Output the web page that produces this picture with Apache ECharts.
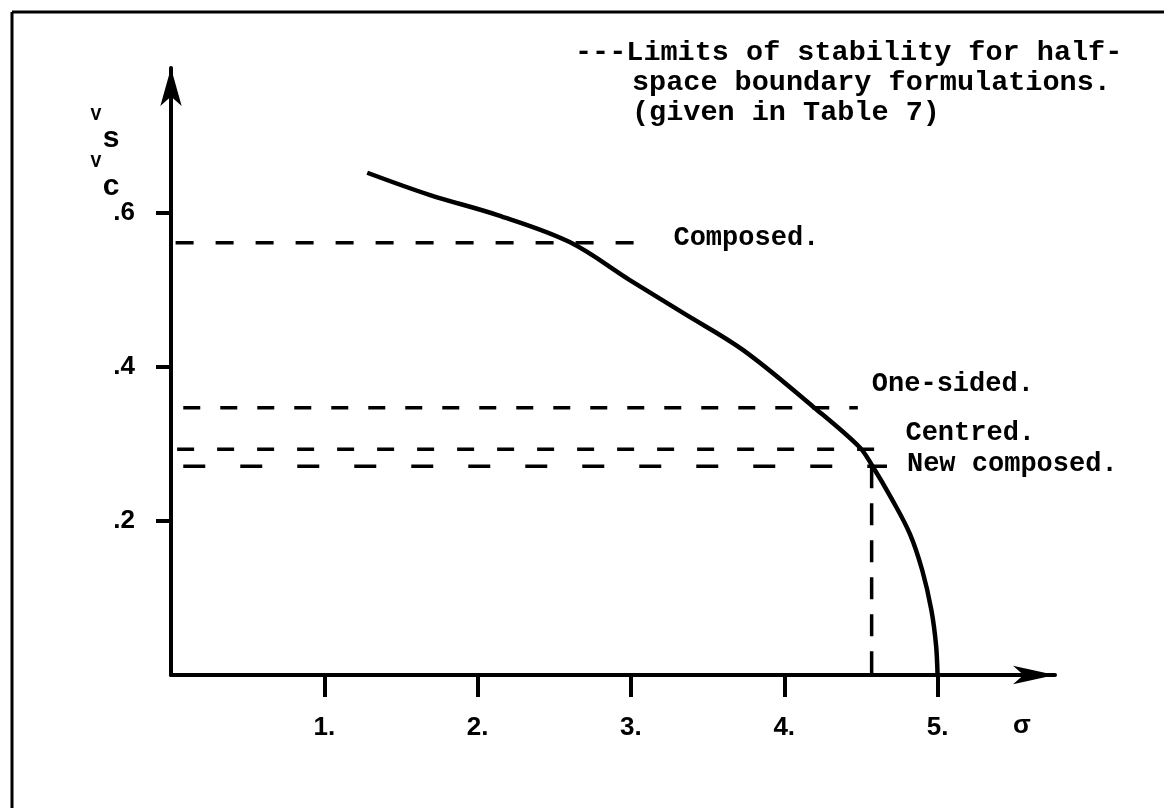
<!DOCTYPE html>
<html>
<head>
<meta charset="utf-8">
<script src="https://cdn.jsdelivr.net/npm/echarts@6/dist/echarts.min.js"></script>
<style>html,body{margin:0;padding:0;background:#fff}#c{width:1164px;height:808px}</style>
</head>
<body>
<div id="c"></div>
<script>
// ---- data ----
const xTicks = [1, 2, 3, 4, 5];
const yTicks = [0.2, 0.4, 0.6];
const curveX = [1.28, 1.69, 2.13, 2.60, 2.99, 3.34, 3.73, 4.19, 4.49, 4.57, 4.70, 4.82, 4.90, 4.96, 4.99, 5.0];
const curveY = [0.652, 0.623, 0.597, 0.562, 0.513, 0.470, 0.422, 0.348, 0.296, 0.273, 0.229, 0.183, 0.136, 0.084, 0.039, 0.0];
const limitNames = ['Composed.', 'One-sided.', 'Centred.', 'New composed.'];
const limitValues = [0.561, 0.347, 0.293, 0.271];
const limitStart = [0.03, 0.08, 0.04, 0.08];
const limitEnd = [3.16, 4.48, 4.66, 4.67];
const verticalX = 4.57;
const legendLines = ['---Limits of stability for half-', 'space boundary formulations.', '(given in Table 7)'];
const xAxisName = 'σ';

// ---- chart ----
const mono = 'Liberation Mono';
const sans = 'Liberation Sans';
const chart = echarts.init(document.getElementById('c'), null, {renderer: 'canvas'});

const labelOffsets = [[0, -5], [0, -24], [0, -16], [0, -2]];
const labelDist = [18, 14, 20, 20];
const dashPatterns = [[18, 22], [17, 20], [17, 23], [22, 35]];

const series = [{
  type: 'line',
  data: curveX.map((x, i) => [x, curveY[i]]),
  smooth: 0.35,
  showSymbol: false,
  lineStyle: {color: '#000', width: 4.5},
  z: 3
}];
limitNames.forEach((n, i) => {
  series.push({
    type: 'line',
    name: n,
    data: [[limitStart[i], limitValues[i]], [limitEnd[i], limitValues[i]]],
    showSymbol: false,
    lineStyle: {color: '#000', width: 3.5, type: dashPatterns[i]},
    endLabel: {
      show: true,
      formatter: n,
      distance: labelDist[i],
      offset: labelOffsets[i],
      fontFamily: mono,
      fontSize: 27,
      fontWeight: 'bold',
      color: '#000'
    }
  });
});
series.push({
  type: 'line',
  data: [[verticalX, limitValues[3]], [verticalX, 0]],
  showSymbol: false,
  lineStyle: {color: '#000', width: 3.5, type: [22, 15]}
});

const graphics = [
  {type: 'line', shape: {x1: 12, y1: 12, x2: 12, y2: 808}, style: {stroke: '#000', lineWidth: 3}},
  {type: 'line', shape: {x1: 12, y1: 12, x2: 1164, y2: 12}, style: {stroke: '#000', lineWidth: 3}},
  {type: 'text', x: 575, y: 53, style: {text: legendLines[0], font: 'bold 28.5px "Liberation Mono"', fill: '#000', textVerticalAlign: 'middle'}},
  {type: 'text', x: 632, y: 83, style: {text: legendLines[1], font: 'bold 28.5px "Liberation Mono"', fill: '#000', textVerticalAlign: 'middle'}},
  {type: 'text', x: 632, y: 113, style: {text: legendLines[2], font: 'bold 28.5px "Liberation Mono"', fill: '#000', textVerticalAlign: 'middle'}},
  {type: 'text', x: 1022, y: 726, style: {text: xAxisName, font: 'bold 26px "Liberation Sans"', fill: '#000', textAlign: 'center', textVerticalAlign: 'middle'}},
  {type: 'text', x: 96, y: 115, style: {text: 'V', font: 'bold 18px "Liberation Mono"', fill: '#000', textAlign: 'center', textVerticalAlign: 'middle'}},
  {type: 'text', x: 111, y: 139, style: {text: 's', font: 'bold 30px "Liberation Sans"', fill: '#000', textAlign: 'center', textVerticalAlign: 'middle'}},
  {type: 'text', x: 96, y: 162, style: {text: 'V', font: 'bold 18px "Liberation Mono"', fill: '#000', textAlign: 'center', textVerticalAlign: 'middle'}},
  {type: 'text', x: 111, y: 187, style: {text: 'c', font: 'bold 30px "Liberation Sans"', fill: '#000', textAlign: 'center', textVerticalAlign: 'middle'}}
];

chart.setOption({
  animation: false,
  backgroundColor: '#fff',
  grid: {left: 171, right: 109, top: 68, bottom: 133},
  xAxis: {
    type: 'value', min: 0, max: 5.766, interval: 1,
    splitLine: {show: false},
    axisLine: {lineStyle: {color: '#000', width: 4}, symbol: ['none', 'arrow'], symbolSize: [14, 42]},
    axisTick: {show: true, length: 22, lineStyle: {color: '#000', width: 4}, customValues: xTicks},
    axisLabel: {customValues: xTicks, formatter: v => v + '.', margin: 40, color: '#000', fontFamily: sans, fontWeight: 'bold', fontSize: 26}
  },
  yAxis: {
    type: 'value', min: 0, max: 0.788, interval: 0.2,
    splitLine: {show: false},
    axisLine: {lineStyle: {color: '#000', width: 4}, symbol: ['none', 'arrow'], symbolSize: [16, 38]},
    axisTick: {show: true, length: 15, lineStyle: {color: '#000', width: 4}, customValues: yTicks},
    axisLabel: {customValues: yTicks, formatter: v => '.' + Math.round(v * 10), margin: 36, color: '#000', fontFamily: sans, fontWeight: 'bold', fontSize: 26}
  },
  series: series,
  graphic: graphics
});
</script>
</body>
</html>
